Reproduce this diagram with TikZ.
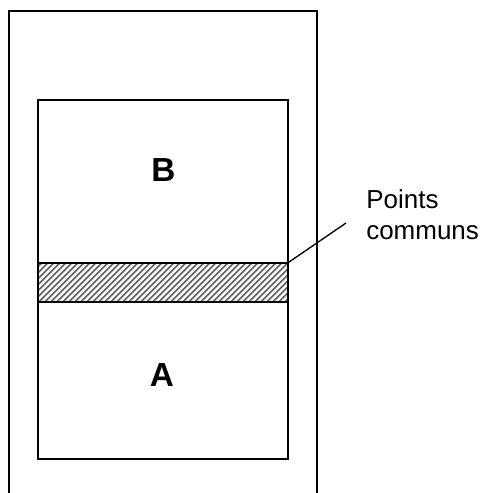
\documentclass[tikz,border=0pt]{standalone}
\usepackage{fontspec}
\setmainfont{Liberation Sans}
\begin{document}
\begin{tikzpicture}[x=0.75pt,y=-0.75pt,
  frame/.style={draw=black, line width=1.2pt},
  setbox/.style={frame, minimum width=187.5pt, minimum height=269.25pt, inner sep=0pt},
  band/.style={frame, minimum width=187.5pt, minimum height=29.25pt, inner sep=0pt,
    path picture={
      \foreach \i in {-130,-125.5,...,110}
        \draw[gray!75!black, line width=1.2pt] (\i pt,-20pt) -- ++(40pt,40pt);
    }},
  setlabel/.style={font=\fontsize{25}{30}\selectfont\bfseries},
  note/.style={font=\fontsize{19.5}{23.5}\selectfont, align=left, anchor=north west, inner sep=0pt},
  leader/.style={draw=black, line width=1pt}]
\useasboundingbox (0,0) rectangle (482,493);
% surrounding frame, open at the bottom
\draw[frame] (9,493) -- (9,11) -- (317,11) -- (317,493);
% the two sets and their common band
\node[setbox] (sets) at (163,279.5) {};
\node[band] (band) at (163,282.5) {};
\node[setlabel] (b) at (163.5,170) {B};
\node[setlabel] (a) at (162,375) {A};
% annotation
\coordinate (tip) at (346,223);
\node[note] (common) at (366,189) {Points\\communs};
\draw[leader] (band.north east) -- (tip);
\end{tikzpicture}
\end{document}
